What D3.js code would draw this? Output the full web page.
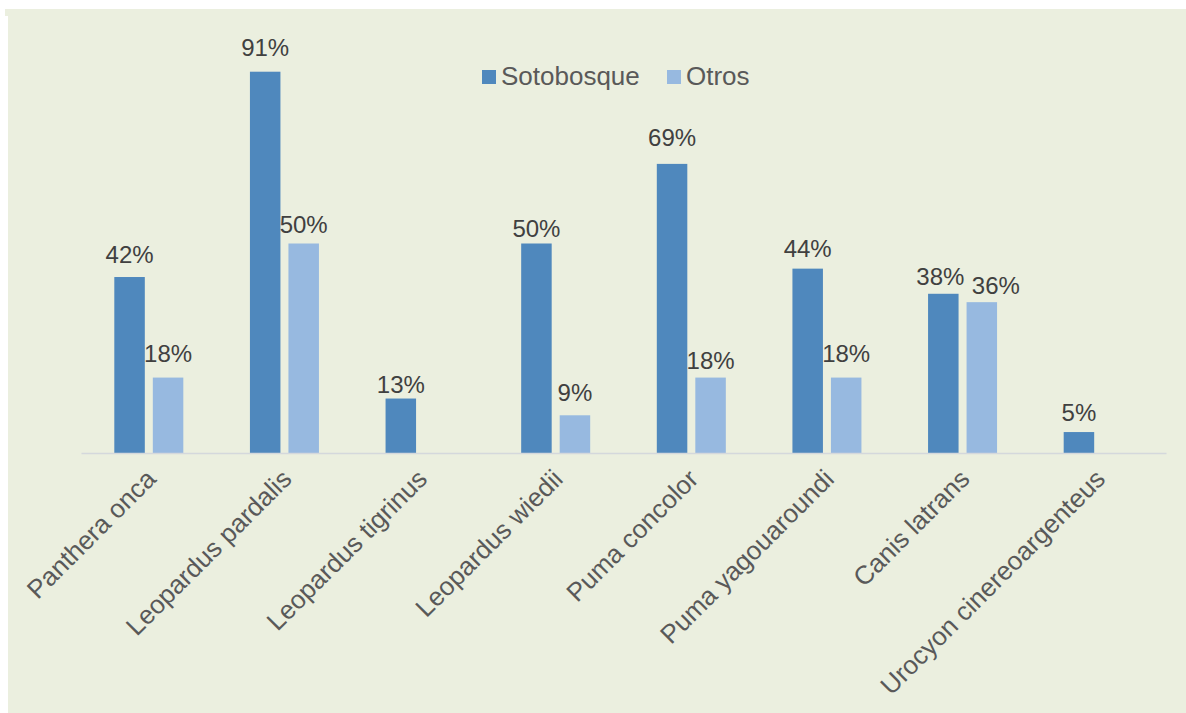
<!DOCTYPE html>
<html>
<head>
<meta charset="utf-8">
<script src="https://cdn.jsdelivr.net/npm/d3@7"></script>
<style>
  html, body { margin: 0; padding: 0; background: #ffffff; }
  svg { display: block; }
</style>
</head>
<body>
<svg id="chart" width="1186" height="713"></svg>
<script>
// Species shown along the x axis
const species = [
  "Panthera onca",
  "Leopardus pardalis",
  "Leopardus tigrinus",
  "Leopardus wiedii",
  "Puma concolor",
  "Puma yagouaroundi",
  "Canis latrans",
  "Urocyon cinereoargenteus"
];

// Series names
const seriesNames = ["Sotobosque", "Otros"];

// Percentages per species (null = no record)
const sotobosque = [42, 91, 13, 50, 69, 44, 38, 5];
const otros = [18, 50, null, 9, 18, 18, 36, null];

const seriesColors = ["#4f88bd", "#97b9e0"];

const W = 1186, H = 713;
const svg = d3.select("#chart");

// Panel background
svg.append("rect").attr("x", 5).attr("y", 9).attr("width", W - 5).attr("height", 7).attr("fill", "#ebefdf");
svg.append("rect").attr("x", 8).attr("y", 9).attr("width", W - 8).attr("height", H - 9).attr("fill", "#ebefdf");

const baseY = 453;
const x0 = d3.scaleBand().domain(species).range([81, 1166]).padding(0);
const x1 = d3.scaleBand().domain(seriesNames).range([0, x0.bandwidth()])
  .paddingInner(0.208).paddingOuter(0.865);
const y = d3.scaleLinear().domain([0, 100]).range([baseY, 34]);

const rows = species.map((s, i) => ({
  species: s,
  values: [
    { species: s, series: seriesNames[0], value: sotobosque[i], color: seriesColors[0] },
    { species: s, series: seriesNames[1], value: otros[i], color: seriesColors[1] }
  ]
}));

// Hand-placed label nudges [dx, dy] so crowded labels stay apart
const labelNudge = {
  "Panthera onca|Sotobosque": [0, 2],
  "Leopardus pardalis|Otros": [0, 5],
  "Leopardus tigrinus|Sotobosque": [0, 10],
  "Leopardus wiedii|Sotobosque": [0, 9],
  "Leopardus wiedii|Otros": [0, 2],
  "Puma concolor|Sotobosque": [0, -2],
  "Puma concolor|Otros": [0, 7],
  "Puma yagouaroundi|Sotobosque": [0, 4],
  "Canis latrans|Sotobosque": [-3, 7],
  "Canis latrans|Otros": [14, 8],
  "Urocyon cinereoargenteus|Sotobosque": [0, 5]
};
const nudge = d => labelNudge[d.species + "|" + d.series] || [0, 0];

// Bars
const groups = svg.append("g").selectAll("g").data(rows).join("g")
  .attr("transform", d => `translate(${x0(d.species)},0)`);

groups.selectAll("rect")
  .data(d => d.values.filter(v => v.value != null))
  .join("rect")
  .attr("x", d => x1(d.series))
  .attr("y", d => y(d.value))
  .attr("width", x1.bandwidth())
  .attr("height", d => baseY - y(d.value))
  .attr("fill", d => d.color);

// Value labels
groups.selectAll("text")
  .data(d => d.values.filter(v => v.value != null))
  .join("text")
  .attr("x", d => x1(d.series) + x1.bandwidth() / 2 + nudge(d)[0])
  .attr("y", d => y(d.value) - 16 + nudge(d)[1])
  .attr("text-anchor", "middle")
  .attr("font-family", "'Liberation Sans', Arial, sans-serif")
  .attr("font-size", 24)
  .attr("fill", "#404040")
  .text(d => d.value + "%");

// Category axis
const xAxis = d3.axisBottom(x0).tickSize(0).tickSizeOuter(0);
const axisG = svg.append("g").attr("transform", `translate(0,${baseY})`).call(xAxis);
axisG.select(".domain").attr("stroke", "#d4d8dc").attr("stroke-width", 1.5);
axisG.selectAll(".tick text")
  .attr("font-family", "'Liberation Sans', Arial, sans-serif")
  .attr("font-size", 26)
  .attr("fill", "#595959")
  .attr("text-anchor", "end")
  .attr("x", 0)
  .attr("y", 0)
  .attr("dy", "0.85em")
  .attr("transform", "translate(-7,12) rotate(-45)");

// Legend
const legend = svg.append("g").attr("transform", "translate(482,70)");
const legendX = [0, 185];
seriesNames.forEach((name, i) => {
  const g = legend.append("g").attr("transform", `translate(${legendX[i]},0)`);
  g.append("rect").attr("width", 14).attr("height", 14).attr("fill", seriesColors[i]);
  g.append("text")
    .attr("x", 19)
    .attr("y", 15)
    .attr("font-family", "'Liberation Sans', Arial, sans-serif")
    .attr("font-size", 26)
    .attr("fill", "#595959")
    .text(name);
});
</script>
</body>
</html>
